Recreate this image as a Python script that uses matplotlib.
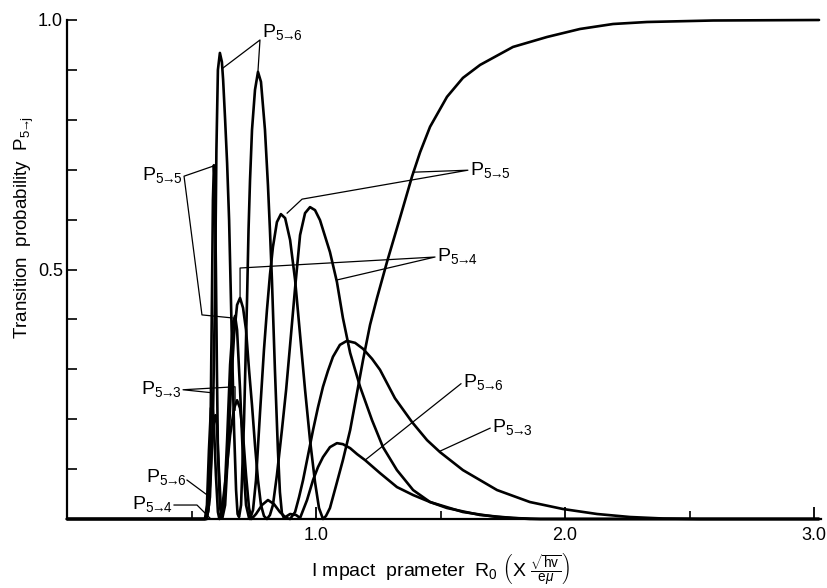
import matplotlib
matplotlib.use("Agg")
import matplotlib.pyplot as plt

plt.rcParams['font.family'] = ['Liberation Sans', 'DejaVu Sans']
plt.rcParams['mathtext.fontset'] = 'custom'
plt.rcParams['mathtext.rm'] = 'Liberation Sans'
plt.rcParams['mathtext.it'] = 'Liberation Sans:italic'
plt.rcParams['mathtext.bf'] = 'Liberation Sans:bold'
plt.rcParams['mathtext.sf'] = 'Liberation Sans'

# ---------------- data ----------------
# P5->6
p56_x = [0.0, 0.554, 0.566, 0.574, 0.586, 0.594, 0.600, 0.606, 0.614, 0.622, 0.627, 0.635,
         0.643, 0.651, 0.655, 0.663, 0.671, 0.679, 0.685, 0.691, 0.699, 0.711, 0.723, 0.729,
         0.735, 0.743, 0.755, 0.767, 0.779, 0.795, 0.807, 0.815, 0.823, 0.835, 0.847, 0.855,
         0.863, 0.871, 0.896, 0.920, 0.936, 0.964, 0.988, 1.008, 1.028, 1.056, 1.084, 1.108,
         1.137, 1.165, 1.197, 1.257, 1.325, 1.390, 1.458, 1.590, 1.727, 1.859, 3.02]
p56_y = [0.0, 0.0, 0.014, 0.044, 0.198, 0.439, 0.739, 0.900, 0.934, 0.916, 0.880, 0.800,
         0.713, 0.599, 0.513, 0.339, 0.178, 0.058, 0.010, 0.004, 0.028, 0.198, 0.439, 0.579,
         0.679, 0.780, 0.860, 0.896, 0.876, 0.780, 0.669, 0.579, 0.479, 0.299, 0.138, 0.054,
         0.012, 0.002, 0.010, 0.008, 0.002, 0.038, 0.078, 0.104, 0.124, 0.144, 0.152, 0.150,
         0.142, 0.130, 0.118, 0.092, 0.064, 0.048, 0.034, 0.014, 0.004, 0.0, 0.0]

# P5->5
p55_x = [0.0, 0.562, 0.570, 0.576, 0.582, 0.586, 0.590, 0.594, 0.598, 0.602, 0.606, 0.614,
         0.620, 0.631, 0.643, 0.655, 0.667, 0.675, 0.683, 0.695, 0.707, 0.719, 0.731, 0.735,
         0.747, 0.759, 0.775, 0.791, 0.803, 0.815, 0.827, 0.843, 0.859, 0.876, 0.896, 0.916,
         0.936, 0.956, 0.976, 0.996, 1.012, 1.028, 1.040, 1.056, 1.080, 1.108, 1.137, 1.157,
         1.189, 1.217, 1.245, 1.285, 1.337, 1.386, 1.418, 1.458, 1.526, 1.590, 1.659, 1.791,
         1.928, 2.060, 2.193, 2.329, 2.594, 3.02]
p55_y = [0.0, 0.0, 0.028, 0.158, 0.439, 0.639, 0.709, 0.669, 0.499, 0.299, 0.138, 0.028,
         0.002, 0.028, 0.158, 0.309, 0.395, 0.407, 0.379, 0.259, 0.118, 0.028, 0.002, 0.0,
         0.018, 0.078, 0.212, 0.339, 0.419, 0.489, 0.545, 0.595, 0.611, 0.603, 0.559, 0.479,
         0.369, 0.259, 0.158, 0.074, 0.022, 0.0, 0.006, 0.022, 0.066, 0.118, 0.178, 0.232,
         0.319, 0.389, 0.443, 0.515, 0.603, 0.687, 0.735, 0.786, 0.846, 0.884, 0.910, 0.946,
         0.966, 0.982, 0.992, 0.996, 0.999, 1.0]

# P5->4
p54_x = [0.0, 0.558, 0.566, 0.574, 0.582, 0.590, 0.596, 0.602, 0.610, 0.618, 0.624, 0.635,
         0.647, 0.659, 0.671, 0.683, 0.695, 0.707, 0.719, 0.731, 0.743, 0.755, 0.767, 0.779,
         0.791, 0.803, 0.815, 0.827, 0.843, 0.863, 0.880, 0.896, 0.916, 0.936, 0.956, 0.976,
         0.996, 1.016, 1.036, 1.056, 1.084, 1.108, 1.137, 1.177, 1.225, 1.269, 1.325, 1.390,
         1.458, 1.526, 1.659, 1.791, 1.900, 3.02]
p54_y = [0.0, 0.0, 0.014, 0.068, 0.148, 0.198, 0.208, 0.188, 0.098, 0.022, 0.002, 0.028,
         0.138, 0.269, 0.369, 0.429, 0.443, 0.423, 0.379, 0.299, 0.228, 0.148, 0.078, 0.028,
         0.006, 0.0, 0.008, 0.028, 0.088, 0.178, 0.259, 0.349, 0.463, 0.569, 0.613, 0.625,
         0.619, 0.599, 0.567, 0.535, 0.475, 0.403, 0.333, 0.265, 0.198, 0.144, 0.098, 0.058,
         0.034, 0.022, 0.008, 0.002, 0.0, 0.0]

# P5->3
p53_x = [0.0, 0.554, 0.562, 0.570, 0.578, 0.584, 0.590, 0.598, 0.606, 0.612, 0.622, 0.639,
         0.655, 0.671, 0.683, 0.695, 0.707, 0.719, 0.731, 0.741, 0.759, 0.783, 0.807, 0.831,
         0.855, 0.880, 0.896, 0.916, 0.932, 0.948, 0.968, 0.988, 1.008, 1.028, 1.048, 1.068,
         1.096, 1.124, 1.157, 1.189, 1.225, 1.257, 1.317, 1.386, 1.446, 1.498, 1.590, 1.727,
         1.859, 1.992, 2.129, 2.261, 2.394, 2.542, 3.02]
p53_y = [0.0, 0.0, 0.028, 0.138, 0.222, 0.228, 0.188, 0.088, 0.014, 0.0, 0.018, 0.088,
         0.168, 0.222, 0.238, 0.222, 0.168, 0.088, 0.022, 0.0, 0.010, 0.028, 0.038, 0.030,
         0.014, 0.002, 0.0, 0.014, 0.044, 0.078, 0.128, 0.178, 0.224, 0.265, 0.297, 0.325,
         0.349, 0.357, 0.353, 0.341, 0.321, 0.299, 0.242, 0.194, 0.158, 0.134, 0.098, 0.058,
         0.034, 0.020, 0.010, 0.004, 0.001, 0.0, 0.0]

x_ticks = [1.0, 2.0, 3.0]
x_tick_labels = ['1.0', '2.0', '3.0']
x_minor = [0.5, 1.5, 2.5]
y_ticks = [0.5, 1.0]
y_tick_labels = ['0.5', '1.0']
y_minor = [0.1, 0.2, 0.3, 0.4, 0.6, 0.7, 0.8, 0.9]

# ---------------- figure ----------------
fig = plt.figure(figsize=(8.27, 5.88), dpi=100)
ax = fig.add_axes([67 / 827, 69 / 588, 754 / 827, 499 / 588])
ax.set_xlim(0, 3.028)
ax.set_ylim(0, 1.0)

for xs, ys in [(p55_x, p55_y), (p54_x, p54_y), (p53_x, p53_y), (p56_x, p56_y)]:
    ax.plot(xs, ys, color='black', lw=1.9, solid_joinstyle='round',
            solid_capstyle='round', clip_on=False)

for s in ['top', 'right']:
    ax.spines[s].set_visible(False)
for s in ['left', 'bottom']:
    ax.spines[s].set_linewidth(1.6)

ax.set_xticks(x_ticks)
ax.set_xticklabels(x_tick_labels)
ax.set_xticks(x_minor, minor=True)
ax.set_yticks(y_ticks)
ax.set_yticklabels(y_tick_labels)
ax.set_yticks(y_minor, minor=True)
ax.tick_params(axis='x', which='major', direction='in', length=9, width=1.3, pad=6, labelsize=13)
ax.tick_params(axis='x', which='minor', direction='in', length=6, width=1.2)
ax.tick_params(axis='y', which='both', direction='in', length=7, width=1.2, pad=3, labelsize=13)

# labels with leader lines
lab_fs = 14
lw_lead = 0.9


def lead(xs, ys):
    ax.plot(xs, ys, color='black', lw=lw_lead, clip_on=False)


def plab(a, b):
    return r'P$_{%s\!\!\to\!\!%s}$' % (a, b)


ax.text(0.783, 0.976, plab(5, 6), fontsize=lab_fs, ha='left', va='center')
lead([0.627, 0.775, 0.767], [0.904, 0.960, 0.898])

ax.text(0.462, 0.689, plab(5, 5), fontsize=lab_fs, ha='right', va='center')
lead([0.586, 0.470, 0.542, 0.663], [0.707, 0.687, 0.409, 0.403])

ax.text(1.618, 0.699, plab(5, 5), fontsize=lab_fs, ha='left', va='center')
lead([1.390, 1.610, 0.944, 0.884], [0.695, 0.699, 0.641, 0.613])

ax.text(1.486, 0.527, plab(5, 4), fontsize=lab_fs, ha='left', va='center')
lead([1.084, 1.478, 0.695, 0.695], [0.479, 0.525, 0.503, 0.445])

ax.text(0.458, 0.261, plab(5, 3), fontsize=lab_fs, ha='right', va='center')
lead([0.582, 0.582, 0.466, 0.675, 0.675], [0.234, 0.253, 0.259, 0.265, 0.218])

ax.text(0.478, 0.084, plab(5, 6), fontsize=lab_fs, ha='right', va='center')
lead([0.482, 0.574], [0.078, 0.044])

ax.text(0.422, 0.030, plab(5, 4), fontsize=lab_fs, ha='right', va='center')
lead([0.430, 0.522, 0.574], [0.028, 0.028, 0.002])

ax.text(1.590, 0.275, plab(5, 6), fontsize=lab_fs, ha='left', va='center')
lead([1.582, 1.197], [0.271, 0.118])

ax.text(1.707, 0.184, plab(5, 3), fontsize=lab_fs, ha='left', va='center')
lead([1.699, 1.498], [0.182, 0.136])

fig.text(24 / 827, 1 - 228 / 588, r'Transition  probability  P$_{5\!\!\to\!\!\mathrm{j}}$',
         rotation=90, fontsize=13.5, ha='center', va='center')
fig.text(441 / 827, 1 - 569 / 588,
         r'I mpact  prameter  R$_0$ $\left(\mathrm{X}\ \frac{\sqrt{\mathrm{hv}}}{\mathrm{e}\mu}\right)$',
         fontsize=14, ha='center', va='center')

fig.savefig('out.png', dpi=100, facecolor='white')
